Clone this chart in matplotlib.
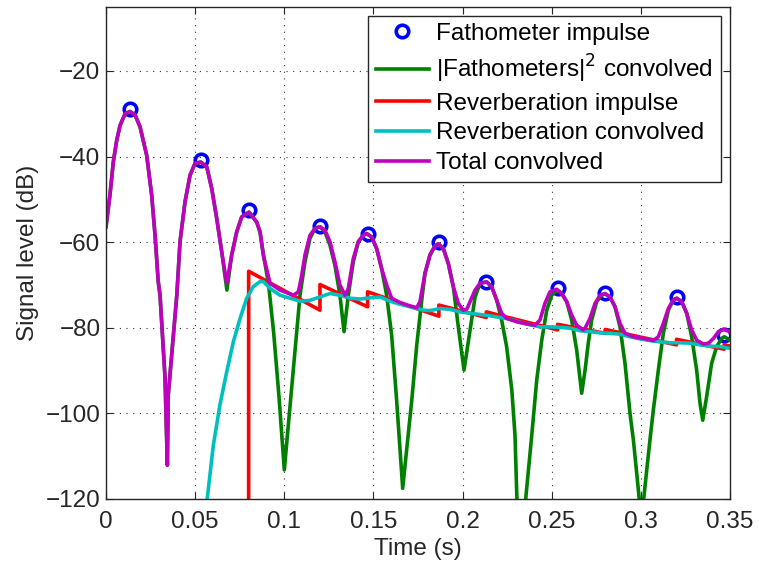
import matplotlib
matplotlib.use("Agg")
import matplotlib.pyplot as plt

plt.rcParams['font.family'] = ['Liberation Sans', 'DejaVu Sans']

# fathometer impulse arrivals
imp_t = [0.0133, 0.0533, 0.0800, 0.1200, 0.1467, 0.1867, 0.2133, 0.2533, 0.2800, 0.3200, 0.3467]
imp_db = [-28.8, -40.8, -52.5, -56.2, -58.0, -59.9, -69.3, -70.8, -71.8, -72.8, -81.7]

# |fathometer|^2 convolved
green_t = [0.0000, 0.0022, 0.0041, 0.0060, 0.0079, 0.0107, 0.0135, 0.0163, 0.0191, 0.0228,
           0.0256, 0.0275, 0.0293, 0.0303, 0.0331, 0.0344, 0.0349, 0.0397, 0.0415, 0.0443,
           0.0471, 0.0499, 0.0531, 0.0565, 0.0593, 0.0621, 0.0649, 0.0678, 0.0705, 0.0733,
           0.0761, 0.0802, 0.0845, 0.0864, 0.0885, 0.0911, 0.0940, 0.0970, 0.1000, 0.1088,
           0.1116, 0.1144, 0.1172, 0.1200, 0.1228, 0.1256, 0.1284, 0.1312, 0.1335, 0.1359,
           0.1387, 0.1415, 0.1443, 0.1462, 0.1490, 0.1518, 0.1546, 0.1574, 0.1602, 0.1630,
           0.1664, 0.1715, 0.1743, 0.1771, 0.1789, 0.1817, 0.1845, 0.1864, 0.1892, 0.1920,
           0.1948, 0.1976, 0.2008, 0.2042, 0.2070, 0.2098, 0.2135, 0.2163, 0.2191, 0.2219,
           0.2247, 0.2276, 0.2294, 0.2304, 0.2328, 0.2356, 0.2388, 0.2416, 0.2444, 0.2472,
           0.2500, 0.2528, 0.2556, 0.2584, 0.2612, 0.2640, 0.2668, 0.2687, 0.2705, 0.2724,
           0.2752, 0.2780, 0.2799, 0.2827, 0.2855, 0.2883, 0.2911, 0.2939, 0.2958, 0.3003,
           0.3051, 0.3070, 0.3098, 0.3126, 0.3154, 0.3182, 0.3201, 0.3229, 0.3257, 0.3285,
           0.3313, 0.3332, 0.3347, 0.3369, 0.3397, 0.3425, 0.3453, 0.3468, 0.3500]
green_db = [-56.4, -49.0, -41.2, -36.2, -32.7, -30.0, -29.5, -30.3, -33.1, -39.7,
            -49.0, -58.4, -69.3, -72.4, -91.7, -112.1, -95.7, -72.4, -59.9, -50.6,
            -44.4, -41.6, -41.3, -42.4, -47.5, -54.5, -62.3, -71.2, -63.0, -57.6,
            -54.1, -53.0, -55.3, -57.8, -63.5, -69.6, -81.0, -96.0, -113.2, -72.4,
            -64.6, -59.1, -56.8, -56.4, -57.6, -60.7, -65.4, -72.4, -80.9, -72.4,
            -64.6, -59.9, -58.4, -58.0, -58.8, -61.5, -66.2, -72.4, -81.7, -96.9,
            -117.5, -96.9, -84.0, -73.5, -67.3, -63.0, -60.9, -60.4, -61.5, -65.0,
            -70.4, -79.8, -89.9, -80.5, -72.8, -69.6, -69.3, -70.4, -73.5, -78.2,
            -84.4, -94.5, -105.1, -119.1, -135.0, -119.1, -105.1, -92.2, -82.9, -75.9,
            -72.4, -71.2, -72.0, -73.9, -78.2, -85.2, -95.3, -89.9, -83.6, -78.2,
            -73.9, -72.4, -72.1, -72.8, -75.1, -79.8, -88.3, -100.0, -106.2, -125.0,
            -106.2, -99.2, -89.9, -81.3, -75.9, -73.5, -73.1, -73.9, -76.6, -82.1,
            -89.9, -97.7, -101.6, -96.1, -88.3, -84.4, -82.5, -82.1, -82.9]

# reverberation impulse (sawtooth, jumps at arrivals)
red_t = [0.0800, 0.0800, 0.1200, 0.1200, 0.1467, 0.1467, 0.1867, 0.1867, 0.2133, 0.2133,
         0.2533, 0.2533, 0.2800, 0.2800, 0.3200, 0.3200, 0.3467, 0.3467, 0.3500]
red_db = [-200.0, -66.8, -75.9, -69.9, -75.1, -71.6, -77.3, -74.7, -77.6, -76.3,
          -80.5, -79.2, -81.3, -80.4, -84.0, -82.7, -85.0, -84.0, -84.3]

# reverberation convolved
cyan_t = [0.0560, 0.0568, 0.0602, 0.0639, 0.0677, 0.0714, 0.0752, 0.0789, 0.0826, 0.0864,
          0.0882, 0.0920, 0.0976, 0.1032, 0.1088, 0.1144, 0.1200, 0.1256, 0.1312, 0.1369,
          0.1425, 0.1481, 0.1537, 0.1593, 0.1649, 0.1705, 0.1780, 0.1817, 0.1873, 0.1929,
          0.1985, 0.2042, 0.2098, 0.2154, 0.2210, 0.2266, 0.2322, 0.2378, 0.2434, 0.2490,
          0.2546, 0.2603, 0.2659, 0.2715, 0.2771, 0.2827, 0.2883, 0.2939, 0.2995, 0.3051,
          0.3107, 0.3164, 0.3220, 0.3276, 0.3332, 0.3388, 0.3444, 0.3500]
cyan_db = [-124.0, -119.8, -107.4, -98.0, -90.3, -83.3, -77.8, -73.1, -70.4, -69.2,
           -69.2, -70.8, -72.4, -73.1, -73.8, -73.6, -72.8, -72.0, -72.4, -73.1,
           -73.3, -73.0, -72.8, -73.8, -74.5, -75.1, -75.9, -76.0, -75.5, -75.7,
           -76.3, -76.6, -76.9, -77.2, -77.6, -78.0, -78.7, -79.3, -79.8, -79.8,
           -79.9, -80.1, -80.7, -80.9, -81.2, -81.3, -81.5, -82.1, -82.6, -83.0,
           -83.3, -83.5, -83.5, -83.6, -84.0, -84.3, -84.4, -84.8]

# total convolved
mag_t = [0.0000, 0.0022, 0.0041, 0.0060, 0.0079, 0.0107, 0.0135, 0.0163, 0.0191, 0.0228,
         0.0256, 0.0275, 0.0293, 0.0303, 0.0331, 0.0344, 0.0349, 0.0397, 0.0415, 0.0443,
         0.0471, 0.0499, 0.0531, 0.0565, 0.0593, 0.0621, 0.0649, 0.0677, 0.0705, 0.0733,
         0.0761, 0.0802, 0.0845, 0.0864, 0.0882, 0.0920, 0.0976, 0.1051, 0.1079, 0.1098,
         0.1116, 0.1144, 0.1172, 0.1200, 0.1228, 0.1256, 0.1284, 0.1312, 0.1341, 0.1359,
         0.1387, 0.1415, 0.1443, 0.1462, 0.1490, 0.1518, 0.1546, 0.1574, 0.1602, 0.1649,
         0.1705, 0.1743, 0.1761, 0.1789, 0.1817, 0.1845, 0.1864, 0.1892, 0.1920, 0.1948,
         0.1976, 0.2004, 0.2023, 0.2042, 0.2070, 0.2098, 0.2135, 0.2163, 0.2191, 0.2219,
         0.2247, 0.2303, 0.2359, 0.2406, 0.2434, 0.2462, 0.2490, 0.2528, 0.2556, 0.2584,
         0.2612, 0.2640, 0.2677, 0.2687, 0.2715, 0.2743, 0.2771, 0.2799, 0.2827, 0.2855,
         0.2883, 0.2911, 0.2958, 0.3014, 0.3070, 0.3098, 0.3126, 0.3154, 0.3182, 0.3201,
         0.3229, 0.3257, 0.3285, 0.3313, 0.3351, 0.3379, 0.3407, 0.3435, 0.3463, 0.3500]
mag_db = [-56.4, -49.0, -41.2, -36.2, -32.7, -30.0, -29.5, -30.3, -33.1, -39.7,
          -49.0, -58.4, -69.3, -72.4, -91.7, -112.1, -95.7, -72.4, -59.9, -50.6,
          -44.4, -41.6, -41.3, -42.4, -47.5, -54.5, -62.3, -69.6, -63.0, -57.6,
          -54.1, -53.0, -55.3, -57.5, -63.0, -69.6, -71.2, -72.4, -71.6, -67.7,
          -63.0, -58.4, -56.8, -56.4, -57.2, -59.9, -64.6, -70.0, -72.4, -70.8,
          -63.8, -59.9, -58.4, -58.0, -58.8, -61.5, -66.2, -70.0, -73.1, -74.1,
          -74.9, -75.3, -73.9, -67.3, -63.0, -60.9, -60.4, -61.5, -65.0, -70.4,
          -74.3, -75.9, -75.7, -73.9, -71.2, -69.6, -69.3, -70.4, -73.5, -76.6,
          -77.8, -78.6, -79.1, -79.4, -78.2, -74.3, -71.6, -71.0, -72.0, -73.9,
          -77.0, -79.4, -80.5, -80.1, -77.8, -74.3, -72.4, -72.0, -72.8, -75.1,
          -79.0, -81.3, -82.1, -82.5, -83.0, -82.1, -79.0, -75.5, -73.5, -73.1,
          -73.9, -76.6, -80.5, -82.9, -83.8, -83.6, -82.5, -80.9, -80.4, -80.9]

xticks = [0, 0.05, 0.1, 0.15, 0.2, 0.25, 0.3, 0.35]
xtick_labels = ['0', '0.05', '0.1', '0.15', '0.2', '0.25', '0.3', '0.35']
yticks = [-120, -100, -80, -60, -40, -20]

fig = plt.figure(figsize=(7.59, 5.63), dpi=100)
ax = fig.add_axes([0.1397, 0.1137, 0.8221, 0.8744])

fs = 17.5
lw = 2.6
ax.plot(imp_t, imp_db, 'o', color='#0000FF', markerfacecolor='none', markersize=9,
        markeredgewidth=2.6, label='Fathometer impulse')
ax.plot(green_t, green_db, color='#008000', lw=lw, label='|Fathometers|$^2$ convolved')
ax.plot(red_t, red_db, color='#FF0000', lw=lw, label='Reverberation impulse')
ax.plot(cyan_t, cyan_db, color='#00BFBF', lw=lw, label='Reverberation convolved')
ax.plot(mag_t, mag_db, color='#BF00BF', lw=lw, label='Total convolved')

ax.set_xlim(0, 0.35)
ax.set_ylim(-120, -5)
ax.set_xticks(xticks)
ax.set_xticklabels(xtick_labels)
ax.set_yticks(yticks)
ax.tick_params(direction='in', length=5, width=0.8, top=True, right=True,
               labelsize=fs, colors='#262626')
ax.tick_params(axis='x', pad=9)
ax.tick_params(axis='y', pad=4)
for s in ax.spines.values():
    s.set_color('#262626')
    s.set_linewidth(1.0)
ax.grid(True, color='#333333', linestyle=(0, (1, 5)), linewidth=0.8)

ax.set_xlabel('Time (s)', fontsize=fs, color='#262626', labelpad=3)
ax.set_ylabel('Signal level (dB)', fontsize=fs, color='#262626', labelpad=5)

leg = ax.legend(loc='upper right', bbox_to_anchor=(0.985, 0.982), borderaxespad=0,
                fontsize=fs, fancybox=False, framealpha=1, edgecolor='#262626',
                handlelength=2.2, handletextpad=0.3, labelspacing=0.32,
                borderpad=0.3)
leg.get_frame().set_linewidth(1.0)

fig.savefig('out.png', dpi=100)
